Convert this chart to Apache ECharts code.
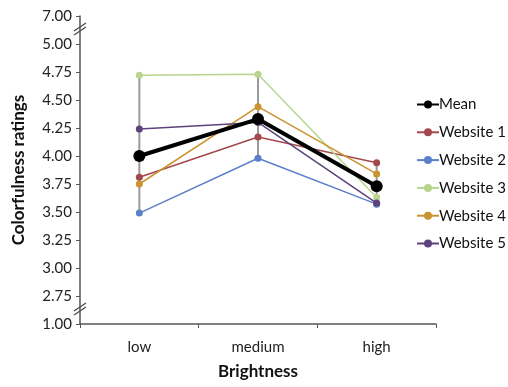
<!DOCTYPE html>
<html><head><meta charset="utf-8">
<script src="https://cdn.jsdelivr.net/npm/echarts@6/dist/echarts.min.js"></script>
<style>html,body{margin:0;padding:0;background:#fff}#c{width:508px;height:387px}</style>
</head><body><div id="c"></div>
<script>
var categories = ['low', 'medium', 'high'];
var mean     = [4.00, 4.33, 3.73];
var website1 = [3.81, 4.17, 3.94];
var website2 = [3.49, 3.98, 3.57];
var website3 = [4.72, 4.73, 3.63];
var website4 = [3.75, 4.44, 3.84];
var website5 = [4.24, 4.30, 3.58];
// broken axis: bottom tick stands for 1.00, top tick for 7.00
var yTickValues = [2.50, 2.75, 3.00, 3.25, 3.50, 3.75, 4.00, 4.25, 4.50, 4.75, 5.00, 5.25];
var yTickLabels = ['1.00', '2.75', '3.00', '3.25', '3.50', '3.75', '4.00', '4.25', '4.50', '4.75', '5.00', '7.00'];

var websites = [
  {name: 'Website 1', data: website1, color: '#A5484B'},
  {name: 'Website 2', data: website2, color: '#5B80C8'},
  {name: 'Website 3', data: website3, color: '#B8D58E'},
  {name: 'Website 4', data: website4, color: '#CB9230'},
  {name: 'Website 5', data: website5, color: '#5C427C'}
];
var rangeData = categories.map(function (c, i) {
  var vals = websites.map(function (w) { return w.data[i]; });
  return [i, Math.min.apply(null, vals), Math.max.apply(null, vals)];
});

var font = 'Lato, "Open Sans", sans-serif';
var chart = echarts.init(document.getElementById('c'));
var series = [{
  type: 'custom', name: 'range', silent: true, z: 1,
  renderItem: function (params, api) {
    var p1 = api.coord([api.value(0), api.value(1)]);
    var p2 = api.coord([api.value(0), api.value(2)]);
    return {type: 'line', shape: {x1: p1[0], y1: p1[1], x2: p2[0], y2: p2[1]},
      style: {stroke: '#9a9a9a', lineWidth: 2}};
  },
  encode: {x: 0, y: [1, 2]},
  data: rangeData
}];
websites.forEach(function (w) {
  series.push({
    type: 'line', name: w.name, data: w.data, z: 2,
    symbol: 'circle', symbolSize: 7,
    lineStyle: {color: w.color, width: 1.5},
    itemStyle: {color: w.color},
    animation: false
  });
});
series.push({
  type: 'line', name: 'Mean', data: mean, z: 3,
  symbol: 'circle', symbolSize: 12,
  lineStyle: {color: '#000', width: 4},
  itemStyle: {color: '#000'},
  animation: false
});

chart.setOption({
  animation: false,
  grid: {left: 80, right: 72, top: 16, bottom: 63},
  legend: {
    orient: 'vertical', left: 411, top: 92, itemGap: 12.8,
    itemWidth: 22, itemHeight: 10,
    data: ['Mean', 'Website 1', 'Website 2', 'Website 3', 'Website 4', 'Website 5'],
    textStyle: {fontFamily: font, fontSize: 15, color: '#111', padding: [0, 0, 0, -5]}
  },
  xAxis: {
    type: 'category', data: categories, boundaryGap: true,
    name: 'Brightness', nameLocation: 'middle', nameGap: 39,
    nameTextStyle: {fontFamily: font, fontSize: 17, fontWeight: 'bold', color: '#111'},
    axisLine: {lineStyle: {color: '#555', width: 1.5}},
    axisTick: {show: true, length: 4, lineStyle: {color: '#555'}},
    axisLabel: {fontFamily: font, fontSize: 15, color: '#222', margin: 16}
  },
  yAxis: {
    type: 'value', min: 2.5, max: 5.25, interval: 0.25,
    name: 'Colorfulness ratings', nameLocation: 'middle', nameGap: 53,
    nameTextStyle: {fontFamily: font, fontSize: 17, fontWeight: 'bold', color: '#111'},
    splitLine: {show: false},
    axisLine: {show: true, lineStyle: {color: '#555', width: 1.5}},
    axisTick: {show: true, length: 4, lineStyle: {color: '#555'}},
    axisLabel: {
      fontFamily: font, fontSize: 15, color: '#222', margin: 8,
      formatter: function (v) {
        var idx = yTickValues.indexOf(Math.round(v * 100) / 100);
        return idx >= 0 ? yTickLabels[idx] : '';
      }
    }
  },
  series: series
});

// break marks on the y axis
var breakTop = chart.convertToPixel({gridIndex: 0}, [0, 5.125]);
var breakBot = chart.convertToPixel({gridIndex: 0}, [0, 2.625]);
var ax = 80;
function slashes(y) {
  return [
    {type: 'line', shape: {x1: ax - 6, y1: y + 1, x2: ax + 6, y2: y - 7}, style: {stroke: '#444', lineWidth: 1.2}},
    {type: 'line', shape: {x1: ax - 6, y1: y + 5, x2: ax + 6, y2: y - 3}, style: {stroke: '#444', lineWidth: 1.2}}
  ];
}
chart.setOption({graphic: slashes(breakTop[1]).concat(slashes(breakBot[1]))});
</script>
</body></html>
